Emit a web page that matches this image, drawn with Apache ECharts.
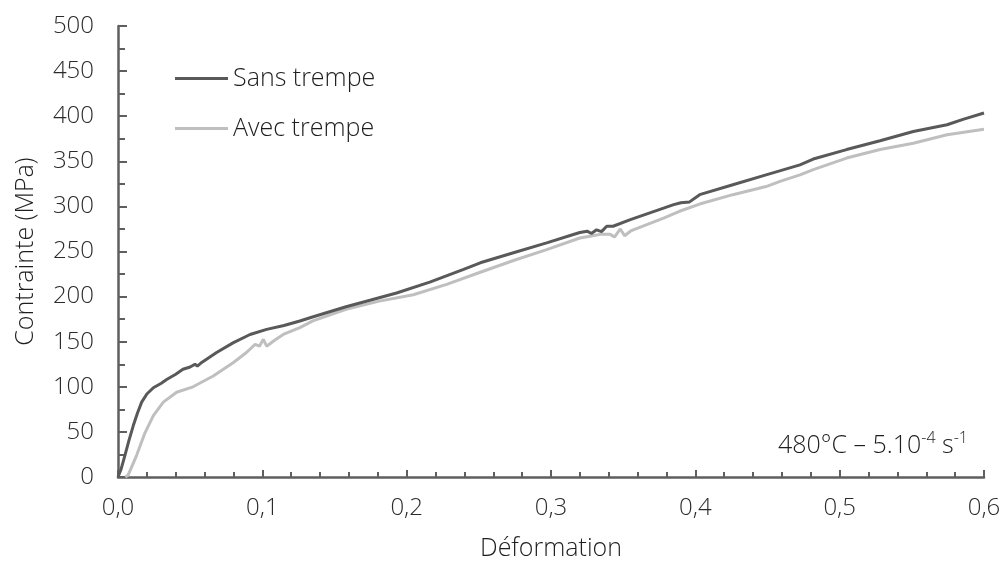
<!DOCTYPE html>
<html>
<head>
<meta charset="utf-8">
<script src="https://cdn.jsdelivr.net/npm/echarts@6/dist/echarts.min.js"></script>
<style>
  html, body { margin: 0; padding: 0; background: #ffffff; }
  #chart { width: 1005px; height: 562px; }
</style>
</head>
<body>
<div id="chart"></div>
<script>
// Essai de traction à 480 °C : contrainte vs déformation
const seriesNames = ['Sans trempe', 'Avec trempe'];

const sansStrain = [0, 0.002, 0.0048, 0.0075, 0.0106, 0.0135, 0.0164, 0.02, 0.0245, 0.03, 0.0337, 0.04, 0.045, 0.05, 0.0533, 0.055, 0.058, 0.0683, 0.08, 0.0915, 0.103, 0.115, 0.126, 0.1353, 0.158, 0.1746, 0.193, 0.216, 0.239, 0.251, 0.274, 0.297, 0.3155, 0.32, 0.325, 0.328, 0.3316, 0.335, 0.3386, 0.343, 0.355, 0.378, 0.385, 0.39, 0.396, 0.403, 0.426, 0.449, 0.4725, 0.4817, 0.5048, 0.528, 0.551, 0.5744, 0.586, 0.6];
const sansStress = [0, 8, 24, 40, 57, 71, 83, 92, 99, 104, 108, 114, 119.5, 122, 125, 123, 127, 138, 149, 158, 163.7, 168, 173, 177.7, 188.8, 196, 204, 216, 230, 237.5, 248.6, 259.6, 268.8, 271, 272.5, 270, 274, 272, 278, 278, 285.4, 298, 302, 304, 305, 313, 324, 335, 346, 352.5, 363, 372.8, 383, 390.5, 396.8, 403.5];

const avecStrain = [0.005, 0.007, 0.0129, 0.0187, 0.0245, 0.0314, 0.0406, 0.052, 0.066, 0.08, 0.089, 0.095, 0.098, 0.1007, 0.103, 0.108, 0.1145, 0.126, 0.135, 0.158, 0.181, 0.2046, 0.2277, 0.251, 0.274, 0.297, 0.32, 0.327, 0.334, 0.341, 0.344, 0.348, 0.351, 0.355, 0.357, 0.378, 0.389, 0.403, 0.426, 0.449, 0.4587, 0.4725, 0.4817, 0.5048, 0.528, 0.551, 0.5744, 0.6];
const avecStress = [0, 2, 24, 49, 68, 83, 94, 100, 112, 127, 138, 147, 145, 152.6, 145, 151, 158, 165.6, 173, 186, 195, 202, 213.5, 227, 240, 252, 265, 267, 269, 269, 266, 275, 267.5, 272.5, 274, 287, 294.6, 302.6, 313, 322, 327.8, 335, 340.7, 353.6, 363, 370, 379.4, 385.5];

const xTicks = { min: 0, max: 0.6, step: 0.1 };
const yTicks = { min: 0, max: 500, step: 50 };

const pairs = (xs, ys) => xs.map((x, i) => [x, ys[i]]);

const FONT = '"Open Sans"';
const TEXT = '#2b2b2b';
const INK = '#1e1e1e';
const AXIS = '#5f5f5f';

const chart = echarts.init(document.getElementById('chart'), null, { renderer: 'canvas' });

chart.setOption({
  animation: false,
  backgroundColor: '#ffffff',
  textStyle: { fontFamily: FONT, fontWeight: 300 },
  grid: { left: 118, right: 21, top: 26, bottom: 85, containLabel: false, outerBoundsMode: 'none' },
  legend: {
    orient: 'vertical',
    left: 170,
    top: 61,
    itemWidth: 53,
    itemHeight: 3,
    itemGap: 25,
    icon: 'rect',
    textStyle: { fontFamily: FONT, fontWeight: 300, fontSize: 25, color: INK },
    data: seriesNames
  },
  title: {
    text: '{a|480°C – 5.10}{s|-4}{a| s}{s|-1}',
    right: 32,
    top: 425,
    textStyle: {
      rich: {
        a: { fontFamily: FONT, fontWeight: 300, fontSize: 25, color: INK, lineHeight: 32 },
        s: { fontFamily: FONT, fontWeight: 300, fontSize: 16, color: INK, lineHeight: 17, verticalAlign: 'top' }
      }
    }
  },
  xAxis: {
    type: 'value',
    min: xTicks.min,
    max: xTicks.max,
    interval: xTicks.step,
    name: 'Déformation',
    nameLocation: 'middle',
    nameGap: 59,
    nameTextStyle: { fontFamily: FONT, fontWeight: 300, fontSize: 25, color: INK },
    axisLine: { show: true, onZero: false, lineStyle: { color: AXIS, width: 2.5 } },
    axisTick: { show: true, inside: true, length: 7, lineStyle: { color: AXIS, width: 2 } },
    minorTick: { show: true, splitNumber: 5, length: 5, lineStyle: { color: AXIS, width: 2 } },
    splitLine: { show: false },
    axisLabel: {
      margin: 19,
      fontFamily: FONT, fontWeight: 300, fontSize: 24, color: TEXT,
      formatter: v => v.toFixed(1).replace('.', ',')
    }
  },
  yAxis: {
    type: 'value',
    min: yTicks.min,
    max: yTicks.max,
    interval: yTicks.step,
    name: 'Contrainte (MPa)',
    nameLocation: 'middle',
    nameGap: 80,
    nameTextStyle: { fontFamily: FONT, fontWeight: 300, fontSize: 25, color: INK },
    axisLine: { show: true, lineStyle: { color: AXIS, width: 2.5 } },
    axisTick: { show: true, inside: true, length: 9, lineStyle: { color: AXIS, width: 2 } },
    minorTick: { show: true, splitNumber: 2, length: 7, lineStyle: { color: AXIS, width: 2 } },
    splitLine: { show: false },
    axisLabel: { margin: 24, fontFamily: FONT, fontWeight: 300, fontSize: 24, color: TEXT }
  },
  series: [
    {
      name: seriesNames[0],
      type: 'line',
      data: pairs(sansStrain, sansStress),
      showSymbol: false,
      z: 3,
      color: '#595959',
      lineStyle: { color: '#595959', width: 3 }
    },
    {
      name: seriesNames[1],
      type: 'line',
      data: pairs(avecStrain, avecStress),
      showSymbol: false,
      z: 2,
      color: '#bfbfbf',
      lineStyle: { color: '#bfbfbf', width: 3 }
    }
  ]
});
</script>
</body>
</html>
